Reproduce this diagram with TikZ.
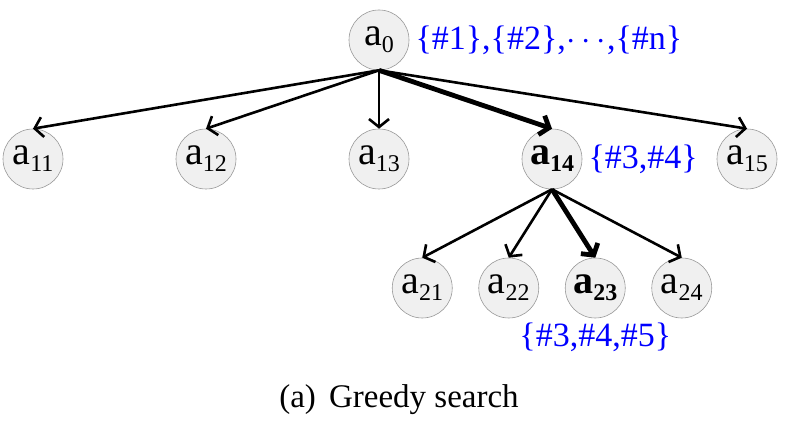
\documentclass[tikz,border=0pt]{standalone}
\usepackage{fontspec}
\setmainfont{Liberation Serif}
\usetikzlibrary{positioning,arrows.meta}
\newcommand{\lowsub}[1]{\raisebox{-0.17em}{\fontsize{24}{24}\selectfont #1}}
\begin{document}
\begin{tikzpicture}[x=1pt, y=1pt,
  every node/.style = {shape=circle,
    draw=gray!80, line width=0.6pt, fill=gray!12,
    minimum size=60pt, inner sep=0pt,
    font=\fontsize{40}{44}\selectfont},
  setnote/.style = {shape=rectangle, draw=none, fill=none,
    minimum size=0pt, inner sep=0pt, text=blue,
    font=\fontsize{34}{38}\selectfont},
  link/.style = {draw, black, line width=2.6pt,
    -{Straight Barb[length=8pt,width=20pt]}},
  pick/.style = {line width=4.8pt},
  edge from parent/.style = {draw=none},
  level 1/.style={sibling distance=173pt, level distance=119pt},
  level 2/.style={sibling distance=86.5pt, level distance=129pt}]
\useasboundingbox (0,0) rectangle (785,426);
\node (a0) at (379,386) {a\lowsub{0}}
child{
 node (a11) {a\lowsub{11}}
 }
child{
 node (a12) {a\lowsub{12}}
 }
child{
 node (a13) {a\lowsub{13}}
 }
child{
 node (a14) {\textbf{a}\lowsub{\textbf{14}}}
 child{
  node (a21) {a\lowsub{21}}
  }
 child{
  node (a22) {a\lowsub{22}}
  }
 child{
  node (a23) {\textbf{a}\lowsub{\textbf{23}}}
  }
 child{
  node (a24) {a\lowsub{24}}
  }
 }
child{
 node[xshift=22pt] (a15) {a\lowsub{15}}
 }
;
% expansions
\foreach \c in {a11,a12,a13,a15}
  \draw[link] (a0.south) -- (\c.north);
\draw[link, pick] (a0.south) -- (a14.north);
\foreach \c in {a21,a22,a24}
  \draw[link] (a14.south) -- (\c.north);
\draw[link, pick] (a14.south) -- (a23.north);
% sets of chosen items
\node[setnote, right=6pt of a0] (s0)
  {\{\#1\},\{\#2\},\hspace{1pt}\scalebox{1.35}{$\cdots$}\hspace{1pt},\{\#n\}};
\node[setnote, right=6pt of a14] (s14) {\{\#3,\#4\}};
\node[setnote, below=4pt of a23] (s23) {\{\#3,\#4,\#5\}};
\node[setnote, text=black, font=\fontsize{33}{36}\selectfont, anchor=base]
  (cap) at (399,19) {(a)\hspace{0.4em}Greedy search};
\end{tikzpicture}
\end{document}
